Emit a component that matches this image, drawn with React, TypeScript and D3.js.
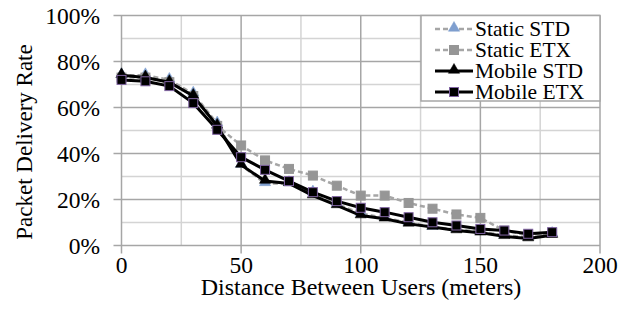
import React, { useEffect, useRef } from "react";
import * as d3 from "d3";

const distances = [0, 10, 20, 30, 40, 50, 60, 70, 80, 90, 100, 110, 120, 130, 140, 150, 160, 170, 180];
const staticStd = [0.74, 0.74, 0.72, 0.66, 0.53, 0.35, 0.27, 0.27, 0.23, 0.18, 0.14, 0.12, 0.10, 0.08, 0.07, 0.06, 0.045, 0.035, 0.05];
const staticEtx = [0.73, 0.73, 0.71, 0.65, 0.52, 0.435, 0.37, 0.333, 0.304, 0.26, 0.217, 0.217, 0.185, 0.16, 0.135, 0.12, 0.065, 0.045, 0.055];
const mobileStd = [0.74, 0.73, 0.71, 0.65, 0.52, 0.35, 0.28, 0.27, 0.217, 0.174, 0.13, 0.116, 0.094, 0.08, 0.065, 0.055, 0.04, 0.03, 0.045];
const mobileEtx = [0.72, 0.714, 0.693, 0.619, 0.503, 0.384, 0.329, 0.28, 0.232, 0.193, 0.164, 0.145, 0.123, 0.101, 0.087, 0.072, 0.065, 0.051, 0.058];

const seriesNames = ["Static STD", "Static ETX", "Mobile STD", "Mobile ETX"];
const yTicks = [0, 0.2, 0.4, 0.6, 0.8, 1];
const xTicks = [0, 50, 100, 150, 200];

function App() {
  const ref = useRef<SVGSVGElement>(null);

  useEffect(() => {
    const svg = d3.select(ref.current);
    svg.selectAll("*").remove();

    const x = d3.scaleLinear().domain([0, 200]).range([121.5, 600]);
    const y = d3.scaleLinear().domain([0, 1]).range([245.5, 15.5]);
    const font = "Liberation Serif";

    // minor grid
    const g = svg.append("g");
    d3.range(0.1, 1.01, 0.2).forEach((v) => {
      g.append("line").attr("x1", x(0)).attr("x2", x(200)).attr("y1", y(v)).attr("y2", y(v))
        .style("stroke", "#d4d4d4").style("stroke-width", 1.5);
    });
    d3.range(25, 200, 50).forEach((v) => {
      g.append("line").attr("x1", x(v)).attr("x2", x(v)).attr("y1", y(0)).attr("y2", y(1))
        .style("stroke", "#d4d4d4").style("stroke-width", 1.5);
    });
    // major grid
    yTicks.forEach((v) => {
      g.append("line").attr("x1", x(0) - 8).attr("x2", x(200)).attr("y1", y(v)).attr("y2", y(v))
        .style("stroke", "#a6a6a6").style("stroke-width", 1.5);
    });
    xTicks.forEach((v) => {
      g.append("line").attr("x1", x(v)).attr("x2", x(v)).attr("y1", y(0) + 8).attr("y2", y(1))
        .style("stroke", "#a6a6a6").style("stroke-width", 1.5);
    });

    // tick labels
    yTicks.forEach((v) => {
      svg.append("text").attr("x", 100).attr("y", y(v) + 8).attr("text-anchor", "end")
        .attr("font-family", font).attr("font-size", 23.5).text(d3.format(".0%")(v));
    });
    xTicks.forEach((v) => {
      svg.append("text").attr("x", x(v)).attr("y", 273).attr("text-anchor", "middle")
        .attr("font-family", font).attr("font-size", 23.5).text(v);
    });
    svg.append("text").attr("x", 361).attr("y", 294.5).attr("text-anchor", "middle")
      .attr("font-family", font).attr("font-size", 24).text("Distance Between Users (meters)");
    svg.append("text").attr("transform", "translate(32,142) rotate(-90)").attr("text-anchor", "middle")
      .attr("font-family", font).attr("font-size", 23).text("Packet Delivery Rate");

    const styles = [
      { data: staticStd, stroke: "#a6a6a6", dash: "5,3", width: 2.5, shape: "tri", fill: "#7f9fcf", mstroke: "#7f9fcf" },
      { data: staticEtx, stroke: "#a6a6a6", dash: "5,3", width: 2.5, shape: "sq", fill: "#969696", mstroke: "#969696" },
      { data: mobileStd, stroke: "#000000", dash: null, width: 3, shape: "tri", fill: "#000000", mstroke: "#000000" },
      { data: mobileEtx, stroke: "#000000", dash: null, width: 3, shape: "sq", fill: "#000000", mstroke: "#8064a2" },
    ];

    const line = d3.line<number>().x((d, i) => x(distances[i])).y((d) => y(d));
    const tri = d3.symbol().type(d3.symbolTriangle).size(55);

    const drawMarker = (sel: any, s: any, cx: number, cy: number) => {
      if (s.shape === "sq") {
        sel.append("rect").attr("x", cx - 4.5).attr("y", cy - 4.5).attr("width", 9).attr("height", 9)
          .style("fill", s.fill).style("stroke", s.mstroke).style("stroke-width", 1);
      } else {
        sel.append("path").attr("d", tri).attr("transform", "translate(" + cx + "," + (cy - 1) + ")")
          .style("fill", s.fill).style("stroke", s.mstroke).style("stroke-width", 0.5);
      }
    };

    styles.forEach((s) => {
      const sg = svg.append("g");
      sg.append("path").attr("d", line(s.data)).style("fill", "none").style("stroke", s.stroke)
        .style("stroke-width", s.width).style("stroke-dasharray", s.dash);
      s.data.forEach((v, i) => drawMarker(sg, s, x(distances[i]), y(v)));
    });

    // legend
    const lg = svg.append("g");
    lg.append("rect").attr("x", 421).attr("y", 15.5).attr("width", 179).attr("height", 85.5)
      .style("fill", "white").style("stroke", "#a6a6a6").style("stroke-width", 1.5);
    styles.forEach((s, i) => {
      const cy = 29 + i * 21;
      lg.append("line").attr("x1", 435).attr("x2", 473).attr("y1", cy).attr("y2", cy)
        .style("stroke", s.stroke).style("stroke-width", s.width).style("stroke-dasharray", s.dash);
      drawMarker(lg, s, 454, cy);
      lg.append("text").attr("x", 475).attr("y", cy + 7).attr("font-family", font)
        .attr("font-size", 21.5).text(seriesNames[i]);
    });
  }, []);

  return (
    <div>
      <style>{"body{margin:0}"}</style>
      <svg ref={ref} width={633} height={314} style={{ display: "block", background: "white" }} />
    </div>
  );
}

export default App;
